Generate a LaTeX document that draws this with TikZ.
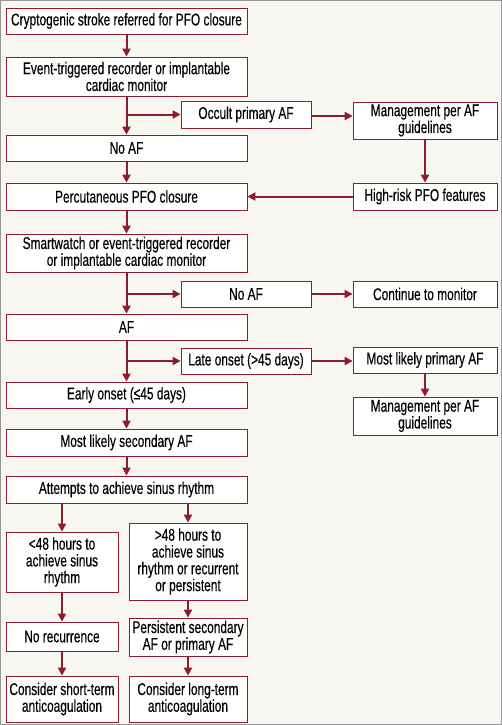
\documentclass[tikz,border=0pt]{standalone}
\usepackage{fontspec}
\setmainfont[FakeStretch=0.70, FakeBold=0.3]{Liberation Sans}
\usepackage{tikz}
\usetikzlibrary{arrows.meta, positioning, calc}
\definecolor{pfored}{RGB}{140,28,46}
\definecolor{pagebg}{RGB}{248,246,241}
\definecolor{framegray}{RGB}{150,150,150}

\begin{document}
\begin{tikzpicture}[
    x=1pt, y=-1pt,
    box/.style={draw=pfored, line width=0.8pt, fill=white, inner sep=0pt,
                font=\fontsize{17}{16.8}\selectfont, align=center},
    lbox/.style={box, minimum width=241pt},
    mbox/.style={box, minimum width=130pt},
    rbox/.style={box, minimum width=144pt},
    sbox/.style={box, minimum width=112pt},
    tbox/.style={box, minimum width=118pt},
    arrow/.style={-{Triangle[length=8pt, width=8pt]}, line width=2pt, color=pfored}
  ]
    \useasboundingbox (0,0) rectangle (502,725);
    \fill[pagebg] (0,0) rectangle (502,725);
    \draw[framegray, line width=2pt] (0,0) rectangle (502,725);

    % Left column
    \node[lbox, minimum height=26pt] (crypt)    at (126.5,21)    {Cryptogenic stroke referred for PFO closure};
    \node[lbox, minimum height=39pt] (event)    at (126.5,76.5)  {Event-triggered recorder or implantable\\cardiac monitor};
    \node[lbox, minimum height=26pt] (noaf1)    at (126.5,148)   {No AF};
    \node[lbox, minimum height=27pt] (perc)     at (126.5,196.5) {Percutaneous PFO closure};
    \node[lbox, minimum height=38pt] (smart)    at (126.5,253)   {Smartwatch or event-triggered recorder\\or implantable cardiac monitor};
    \node[lbox, minimum height=26pt] (af)       at (126.5,327)   {AF};
    \node[lbox, minimum height=26pt] (early)    at (126.5,395)   {Early onset (≤45 days)};
    \node[lbox, minimum height=27pt] (second)   at (126.5,442.5) {Most likely secondary AF};
    \node[lbox, minimum height=27pt] (attempts) at (126.5,489.5) {Attempts to achieve sinus rhythm};

    % Middle column
    \node[mbox, minimum height=27pt] (occult) at (246,114.5) {Occult primary AF};
    \node[mbox, minimum height=26pt] (noaf2)  at (246,294)   {No AF};
    \node[mbox, minimum height=26pt] (late)   at (246,361)   {Late onset (>45 days)};

    % Right column
    \node[rbox, minimum height=37pt] (mgmt1)    at (425,120.5) {Management per AF\\guidelines};
    \node[rbox, minimum height=27pt] (highrisk) at (425,196.5) {High-risk PFO features};
    \node[rbox, minimum height=26pt] (monitor)  at (425,294)   {Continue to monitor};
    \node[rbox, minimum height=26pt] (primary)  at (425,360)   {Most likely primary AF};
    \node[rbox, minimum height=38pt] (mgmt2)    at (425,416)   {Management per AF\\guidelines};

    % Bottom split
    \node[sbox, minimum height=60pt] (lt48)    at (62,562)    {<48 hours to\\achieve sinus\\rhythm};
    \node[sbox, minimum height=29pt] (norec)   at (62,636.5)  {No recurrence};
    \node[sbox, minimum height=46pt] (short)   at (62,699)    {Consider short-term\\anticoagulation};
    \node[tbox, minimum height=77pt] (gt48)    at (188,561.5) {>48 hours to\\achieve sinus\\rhythm or recurrent\\or persistent};
    \node[tbox, minimum height=38pt] (persist) at (188,637)   {Persistent secondary\\AF or primary AF};
    \node[tbox, minimum height=46pt] (long)    at (188,699)   {Consider long-term\\anticoagulation};

    \foreach \a/\b in {crypt/event, event/noaf1, noaf1/perc, perc/smart, smart/af,
                       af/early, early/second, second/attempts,
                       mgmt1/highrisk, primary/mgmt2,
                       lt48/norec, norec/short, gt48/persist, persist/long}
      \draw[arrow] (\a) -- (\b);

    % Side branches off the main trunk
    \draw[arrow] (event.south |- occult.west) -- (occult.west);
    \draw[arrow] (smart.south |- noaf2.west) -- (noaf2.west);
    \draw[arrow] (af.south |- late.west) -- (late.west);
    \draw[arrow] ([yshift=-1.5pt]occult.east) -- ([yshift=-1.5pt]occult.east -| mgmt1.west);
    \draw[arrow] (noaf2.east) -- (monitor.west);
    \draw[arrow] (late.east) -- (late.east -| primary.west);
    \draw[arrow] (highrisk.west) -- (perc.east);

    \draw[arrow] (attempts.south -| lt48.north) -- (lt48.north);
    \draw[arrow] (attempts.south -| gt48.north) -- (gt48.north);
  \end{tikzpicture}
\end{document}
